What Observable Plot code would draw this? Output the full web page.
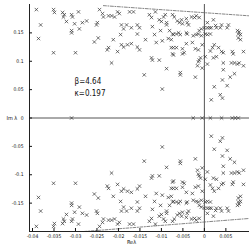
<!DOCTYPE html>
<html>
<head>
<meta charset="utf-8">
<script src="https://cdn.jsdelivr.net/npm/d3@7"></script>
<script src="https://cdn.jsdelivr.net/npm/@observablehq/plot@0.6"></script>
<style>
html,body{margin:0;padding:0;background:#fff;}
</style>
</head>
<body>
<div id="chart"></div>
<script>
// Eigenvalues with positive imaginary part (the conjugates are drawn too)
const upperRe = [-0.0391,-0.0381,-0.0386,-0.0351,-0.0349,-0.0351,-0.0330,-0.0326,-0.0328,-0.0309,-0.0307,-0.0293,-0.0321,-0.0309,-0.0309,-0.0302,-0.0291,-0.0284,-0.0274,-0.0300,-0.0249,-0.0251,-0.0244,-0.0237,-0.0235,-0.0223,-0.0216,-0.0209,-0.0202,-0.0198,-0.0193,-0.0256,-0.0247,-0.0223,-0.0226,-0.0212,-0.0202,-0.0216,-0.0195,-0.0193,-0.0188,-0.0188,-0.0174,-0.0165,-0.0181,-0.0170,-0.0156,-0.0151,-0.0156,-0.0128,-0.0123,-0.0114,-0.0105,-0.0100,-0.0095,-0.0091,-0.0074,-0.0070,-0.0088,-0.0088,-0.0121,-0.0102,-0.0116,-0.0081,-0.0074,-0.0072,-0.0065,-0.0084,-0.0077,-0.0063,-0.0058,-0.0053,-0.0051,-0.0042,-0.0040,-0.0037,-0.0030,-0.0023,-0.0019,-0.0012,-0.0060,-0.0056,-0.0042,-0.0040,-0.0026,-0.0019,-0.0014,-0.0007,-0.0007,-0.0012,-0.0170,-0.0179,-0.0156,-0.0151,-0.0137,-0.0112,-0.0098,-0.0077,-0.0072,-0.0065,-0.0051,-0.0042,-0.0028,-0.0021,-0.0014,-0.0005,-0.0074,-0.0072,-0.0051,-0.0047,-0.0123,-0.0121,-0.0105,-0.0140,-0.0088,-0.0056,-0.0056,-0.0098,-0.0021,-0.0014,-0.0012,-0.0016,0.0007,0.0000,0.0007,0.0012,0.0016,0.0002,0.0007,0.0014,0.0021,0.0026,0.0028,0.0040,0.0037,0.0056,0.0053,0.0077,0.0081,0.0079,0.0084,0.0079,0.0084,0.0023,0.0019,0.0014,0.0033,0.0040,0.0044,0.0065,0.0067,0.0091,0.0002,0.0007,0.0021,0.0028,0.0044,0.0063,0.0070,0.0077,0.0081,0.0091,0.0044,0.0060,0.0070,0.0042,0.0023,0.0053,0.0016,0.0037,0.0042,-0.0005,-0.0009];
const upperIm = [0.191,0.164,0.140,0.191,0.186,0.115,0.186,0.182,0.178,0.182,0.178,0.187,0.170,0.154,0.150,0.166,0.157,0.168,0.171,0.115,0.168,0.164,0.191,0.184,0.178,0.180,0.180,0.178,0.187,0.184,0.164,0.134,0.141,0.124,0.120,0.138,0.117,0.097,0.147,0.129,0.125,0.157,0.187,0.187,0.164,0.159,0.164,0.159,0.148,0.182,0.177,0.187,0.173,0.170,0.178,0.182,0.182,0.178,0.168,0.164,0.161,0.154,0.147,0.154,0.148,0.147,0.148,0.140,0.138,0.171,0.168,0.173,0.166,0.175,0.168,0.164,0.178,0.177,0.180,0.177,0.150,0.147,0.150,0.148,0.145,0.147,0.148,0.145,0.157,0.154,0.131,0.129,0.125,0.120,0.138,0.133,0.136,0.124,0.124,0.124,0.122,0.131,0.133,0.122,0.120,0.129,0.113,0.111,0.113,0.115,0.106,0.102,0.102,0.076,0.087,0.080,0.076,0.051,0.072,0.099,0.102,0.092,0.168,0.159,0.159,0.159,0.159,0.148,0.147,0.148,0.173,0.163,0.159,0.164,0.159,0.164,0.159,0.154,0.152,0.148,0.147,0.141,0.138,0.129,0.124,0.118,0.124,0.117,0.115,0.117,0.113,0.117,0.108,0.095,0.106,0.108,0.097,0.097,0.097,0.095,0.097,0.092,0.085,0.072,0.078,0.067,0.055,0.057,0.032,0.041,0.035,0.088,0.106];
// Real eigenvalues
const realRe = [-0.0309,-0.0026,-0.0005,0.0014,0.0040,0.0065,0.0072,0.0079];

// Envelope (dash-dot) lines
const envTopRe = [-0.0235, 0.0105];
const envTopIm = [0.198, 0.180];
const envBotRe = [-0.028, 0.0105];
const envBotIm = [-0.200, -0.177];

// Axes
const xDomain = [-0.0407, 0.0105];
const yDomain = [-0.2, 0.2];
const xTicks = [-0.04,-0.035,-0.03,-0.025,-0.02,-0.015,-0.01,-0.005,0,0.005];
const xTickLabels = ["-0.04","-0.035","-0.03","-0.025","-0.02","-0.015","-0.01","-0.005","0","0.005"];
const yTicks = [-0.15,-0.1,-0.05,0,0.05,0.1,0.15];
const yTickLabels = ["-0.15","-0.1","-0.05","0","0.05","0.1","0.15"];
const xLabel = "Re\u03bb";
const yLabel = "Im \u03bb";
const annotations = ["\u03b2=4.64", "\u03ba=0.197"];
const annotationRe = [-0.0302, -0.0302];
const annotationIm = [0.065, 0.044];

const eigs = [];
upperRe.forEach((re, i) => { eigs.push({re, im: upperIm[i]}); eigs.push({re, im: -upperIm[i]}); });
realRe.forEach(re => eigs.push({re, im: 0}));
const envTop = envTopRe.map((re, i) => ({re, im: envTopIm[i]}));
const envBot = envBotRe.map((re, i) => ({re, im: envBotIm[i]}));
const notes = annotations.map((t, i) => ({t, re: annotationRe[i], im: annotationIm[i]}));
const xFmt = new Map(xTicks.map((d, i) => [d, xTickLabels[i]]));
const yFmt = new Map(yTicks.map((d, i) => [d, yTickLabels[i]]));

const font = "'Liberation Sans Narrow', 'DejaVu Sans Condensed', 'Liberation Sans', Arial, sans-serif";

const chart = Plot.plot({
  width: 249,
  height: 249,
  marginLeft: 29,
  marginRight: 0,
  marginTop: 4,
  marginBottom: 18,
  style: {fontFamily: font, background: "#fff", color: "#111", overflow: "visible"},
  x: {domain: xDomain},
  y: {domain: yDomain},
  marks: [
    Plot.ruleY([0], {stroke: "#555", strokeWidth: 1}),
    Plot.ruleX([0], {stroke: "#555", strokeWidth: 1}),
    Plot.line(envTop, {x: "re", y: "im", stroke: "#666", strokeWidth: 0.8, strokeDasharray: "3,1.5,1,1.5"}),
    Plot.line(envBot, {x: "re", y: "im", stroke: "#666", strokeWidth: 0.8, strokeDasharray: "3,1.5,1,1.5"}),
    Plot.dot(eigs, {x: "re", y: "im", symbol: "times", r: 1.7, stroke: "#333", strokeWidth: 0.7}),
    Plot.ruleX([xDomain[0]], {stroke: "#222"}),
    Plot.ruleY([yDomain[0]], {stroke: "#222"}),
    Plot.axisX({ticks: xTicks, tickSize: 0, tickPadding: 3, fontSize: 5, tickFormat: d => xFmt.get(d), label: null}),
    Plot.axisX({ticks: xTicks, tickSize: -3, tickFormat: () => "", label: null}),
    Plot.axisY({ticks: yTicks, tickSize: 0, tickPadding: 6, fontSize: 5, tickFormat: d => yFmt.get(d), label: null}),
    Plot.axisY({ticks: yTicks, tickSize: -3, tickFormat: () => "", label: null}),
    Plot.text([xLabel], {frameAnchor: "bottom", dy: 12, dx: -8, fontSize: 5.5}),
    Plot.text([yLabel], {frameAnchor: "left", dx: -23, fontSize: 5.5}),
    Plot.text(notes, {x: "re", y: "im", text: "t", textAnchor: "start", fontSize: 8})
  ]
});
document.getElementById("chart").appendChild(chart);
</script>
</body>
</html>
